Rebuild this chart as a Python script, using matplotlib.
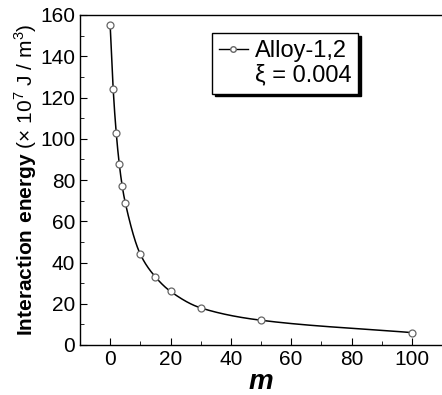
import numpy as np
import matplotlib.pyplot as plt
from matplotlib.ticker import MultipleLocator

plt.rcParams['font.family'] = ['Liberation Sans', 'DejaVu Sans']
plt.rcParams['mathtext.fontset'] = 'custom'
plt.rcParams['mathtext.rm'] = 'Liberation Sans'
plt.rcParams['mathtext.bf'] = 'Liberation Sans:bold'

# data
m_vals = np.array([0, 1, 2, 3, 4, 5, 10, 15, 20, 30, 50, 100])
energy = np.array([155, 124, 103, 88, 77, 69, 44, 33, 26, 18, 12, 6])
series_label = 'Alloy-1,2'
xi_label = 'ξ = 0.004'


#monotone cubic (pchip) so the line passes smoothly through the points
def pchip(x, y, xs):
    h = np.diff(x)
    d = np.diff(y) / h
    n = len(x)
    k = np.zeros(n)
    for i in range(1, n - 1):
        if d[i - 1] * d[i] > 0:
            w1 = 2 * h[i] + h[i - 1]
            w2 = h[i] + 2 * h[i - 1]
            k[i] = (w1 + w2) / (w1 / d[i - 1] + w2 / d[i])
    k[0] = d[0]
    k[-1] = d[-1]
    idx = np.clip(np.searchsorted(x, xs) - 1, 0, n - 2)
    t = (xs - x[idx]) / h[idx]
    h00 = 2 * t**3 - 3 * t**2 + 1
    h10 = t**3 - 2 * t**2 + t
    h01 = -2 * t**3 + 3 * t**2
    h11 = t**3 - t**2
    return h00 * y[idx] + h10 * h[idx] * k[idx] + h01 * y[idx + 1] + h11 * h[idx] * k[idx + 1]


fig = plt.figure(figsize=(4.42, 3.95), dpi=100)
ax = fig.add_axes([80 / 442, 50 / 395, 1 - 80 / 442, 330 / 395])

xs = np.linspace(m_vals[0], m_vals[-1], 800)
ax.plot(xs, pchip(m_vals.astype(float), energy.astype(float), xs), color='black', lw=1.1)
ax.plot(m_vals, energy, 'o', ms=5, mfc='white', mec='#666666', mew=0.9)

# legend entries: line with marker, and a text-only line
h1, = ax.plot([], [], '-o', color='black', lw=1.0, ms=4, mfc='white', mec='#666666')
h2, = ax.plot([], [], ' ')
leg = ax.legend([h1, h2], [series_label, xi_label], loc='upper left',
                bbox_to_anchor=(0.365, 0.945), fontsize=17, frameon=True,
                fancybox=False, shadow={'color': 'black', 'alpha': 1},
                handlelength=1.2, handletextpad=0.3, borderpad=0.3,
                labelspacing=0.1, borderaxespad=0)
leg.get_frame().set_edgecolor('black')
leg.get_frame().set_linewidth(1.0)

ax.set_xlim(-10, 110)
ax.set_ylim(0, 160)
ax.xaxis.set_major_locator(MultipleLocator(20))
ax.xaxis.set_minor_locator(MultipleLocator(10))
ax.yaxis.set_major_locator(MultipleLocator(20))
ax.yaxis.set_minor_locator(MultipleLocator(10))
ax.tick_params(which='both', direction='in', labelsize=15, top=False, right=False)
ax.tick_params(which='major', length=5)
ax.tick_params(which='minor', length=3)
ax.spines['right'].set_visible(False)
for s in ['left', 'bottom', 'top']:
    ax.spines[s].set_linewidth(1.0)

ax.set_xlabel('m', fontsize=20, fontweight='bold', style='italic', labelpad=0)
ax.set_ylabel(r'$\bf{Interaction\ energy}$ (× 10$^7$ J / m$^3$)', fontsize=15, labelpad=1)

fig.savefig('out.png', dpi=100)
